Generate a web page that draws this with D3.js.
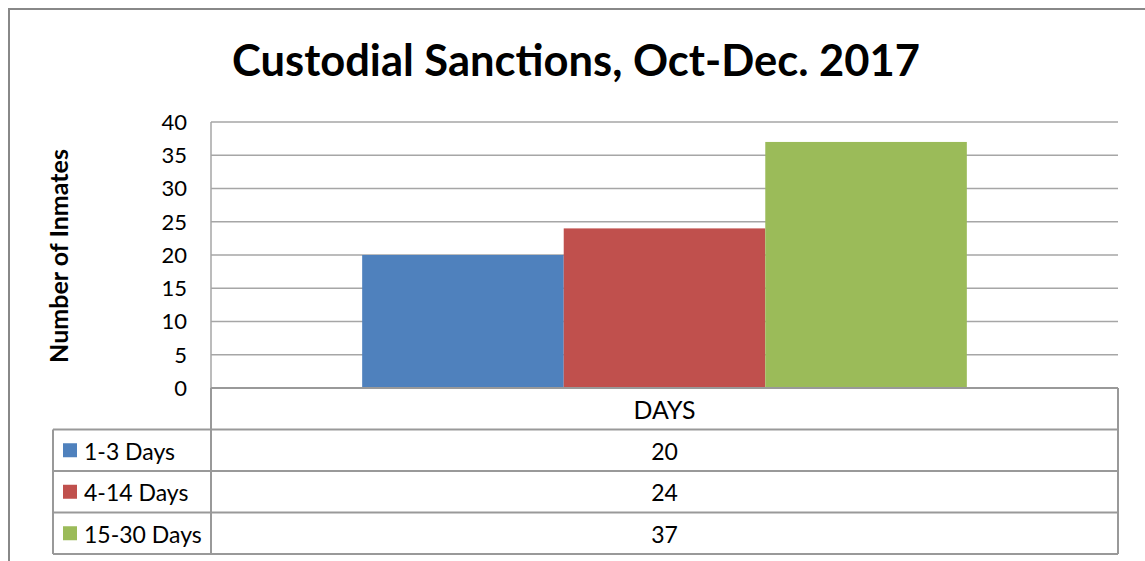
<!DOCTYPE html>
<html>
<head>
<meta charset="utf-8">
<script src="https://cdn.jsdelivr.net/npm/d3@7"></script>
<style>
  body { margin: 0; background: #fff; }
  text { font-family: Lato, "Open Sans", sans-serif; fill: #000; }
</style>
</head>
<body>
<div id="chart"></div>
<script>
// data
var categories = ["DAYS"];
var seriesNames = ["1-3 Days", "4-14 Days", "15-30 Days"];
var seriesValues = [20, 24, 37];
var seriesColors = ["#4F81BD", "#C0504D", "#9BBB59"];
var yTicks = [0, 5, 10, 15, 20, 25, 30, 35, 40];

var W = 1145, H = 561;
var margin = {top: 122, left: 211, right: 27, bottom: 173};
var width = W - margin.left - margin.right,
    height = H - margin.top - margin.bottom;
var rowH = 41.5;

var svg = d3.select("#chart").append("svg")
    .attr("width", W).attr("height", H);

// outer chart border (cut off on right/bottom)
svg.append("path")
    .attr("d", "M9,600 L9,9 L1200,9")
    .attr("fill", "none").attr("stroke", "#888").attr("stroke-width", 2);

// fit text to a target width
function fit(sel, target) {
    var fs = parseFloat(sel.attr("font-size"));
    var w = sel.node().getComputedTextLength();
    sel.attr("font-size", fs * target / w);
}

var title = svg.append("text")
    .attr("x", 576).attr("y", 76)
    .attr("text-anchor", "middle")
    .attr("font-size", 44).attr("font-weight", "bold")
    .text("Custodial Sanctions, Oct-Dec. 2017");
fit(title, 688);

var g = svg.append("g")
    .attr("transform", "translate(" + margin.left + "," + margin.top + ")");

var x0 = d3.scaleBand().domain(categories).range([0, width]);
var x1 = d3.scaleBand().domain(seriesNames)
    .range([0, x0.bandwidth()]).paddingOuter(0.75).paddingInner(0);
var y = d3.scaleLinear().domain([0, 40]).range([height, 0]);

// gridlines
g.selectAll(".grid").data(yTicks).enter().append("line")
    .attr("x1", 0).attr("x2", width)
    .attr("y1", function(d) { return y(d); })
    .attr("y2", function(d) { return y(d); })
    .attr("stroke", "#A6A6A6").attr("stroke-width", 1.5);

// left axis line
g.append("line").attr("x1", 0).attr("x2", 0).attr("y1", 0).attr("y2", height)
    .attr("stroke", "#A6A6A6").attr("stroke-width", 1.5);

// y tick labels
g.selectAll(".tick-label").data(yTicks).enter().append("text")
    .attr("x", -24).attr("y", function(d) { return y(d); })
    .attr("dy", "0.36em").attr("text-anchor", "end")
    .attr("font-size", 22)
    .text(function(d) { return d; });

// bars
g.selectAll(".bar").data(seriesValues).enter().append("rect")
    .attr("x", function(d, i) { return x0(categories[0]) + x1(seriesNames[i]); })
    .attr("width", x1.bandwidth())
    .attr("y", function(d) { return y(d); })
    .attr("height", function(d) { return height - y(d); })
    .attr("fill", function(d, i) { return seriesColors[i]; });

// y title
var ytitle = svg.append("text")
    .attr("transform", "translate(68," + (margin.top + height / 2 + 1) + ") rotate(-90)")
    .attr("text-anchor", "middle")
    .attr("font-size", 20).attr("font-weight", "bold")
    .text("Number of Inmates");
fit(ytitle, 214);

// data table
var tb = g.append("g").attr("transform", "translate(0," + height + ")");
var border = "#999";
var legendLeft = 53 - margin.left;

// horizontal lines
[0, 1, 2, 3, 4].forEach(function(r) {
    tb.append("line")
        .attr("x1", r === 0 ? 0 : legendLeft).attr("x2", width)
        .attr("y1", r * rowH).attr("y2", r * rowH)
        .attr("stroke", border).attr("stroke-width", 2);
});
// verticals
tb.append("line").attr("x1", 0).attr("x2", 0).attr("y1", 0).attr("y2", 4 * rowH)
    .attr("stroke", border).attr("stroke-width", 2);
tb.append("line").attr("x1", width).attr("x2", width).attr("y1", 0).attr("y2", 4 * rowH)
    .attr("stroke", border).attr("stroke-width", 2);
tb.append("line").attr("x1", legendLeft).attr("x2", legendLeft).attr("y1", rowH).attr("y2", 4 * rowH)
    .attr("stroke", border).attr("stroke-width", 2);

// header
var hdr = tb.append("text")
    .attr("x", x0(categories[0]) + x0.bandwidth() / 2).attr("y", rowH / 2 + 1)
    .attr("dy", "0.36em").attr("text-anchor", "middle")
    .attr("font-size", 22)
    .text(categories[0]);
fit(hdr, 62);

// rows
seriesNames.forEach(function(name, i) {
    var ry = (i + 1) * rowH;
    tb.append("rect")
        .attr("x", legendLeft + 10).attr("y", ry + rowH / 2 - 7)
        .attr("width", 14).attr("height", 14)
        .attr("fill", seriesColors[i]);
    tb.append("text")
        .attr("x", legendLeft + 31).attr("y", ry + rowH / 2 + 1)
        .attr("dy", "0.36em").attr("font-size", 23)
        .text(name);
    tb.append("text")
        .attr("x", x0(categories[0]) + x0.bandwidth() / 2).attr("y", ry + rowH / 2 + 1)
        .attr("dy", "0.36em").attr("text-anchor", "middle")
        .attr("font-size", 23)
        .text(seriesValues[i]);
});
</script>
</body>
</html>
